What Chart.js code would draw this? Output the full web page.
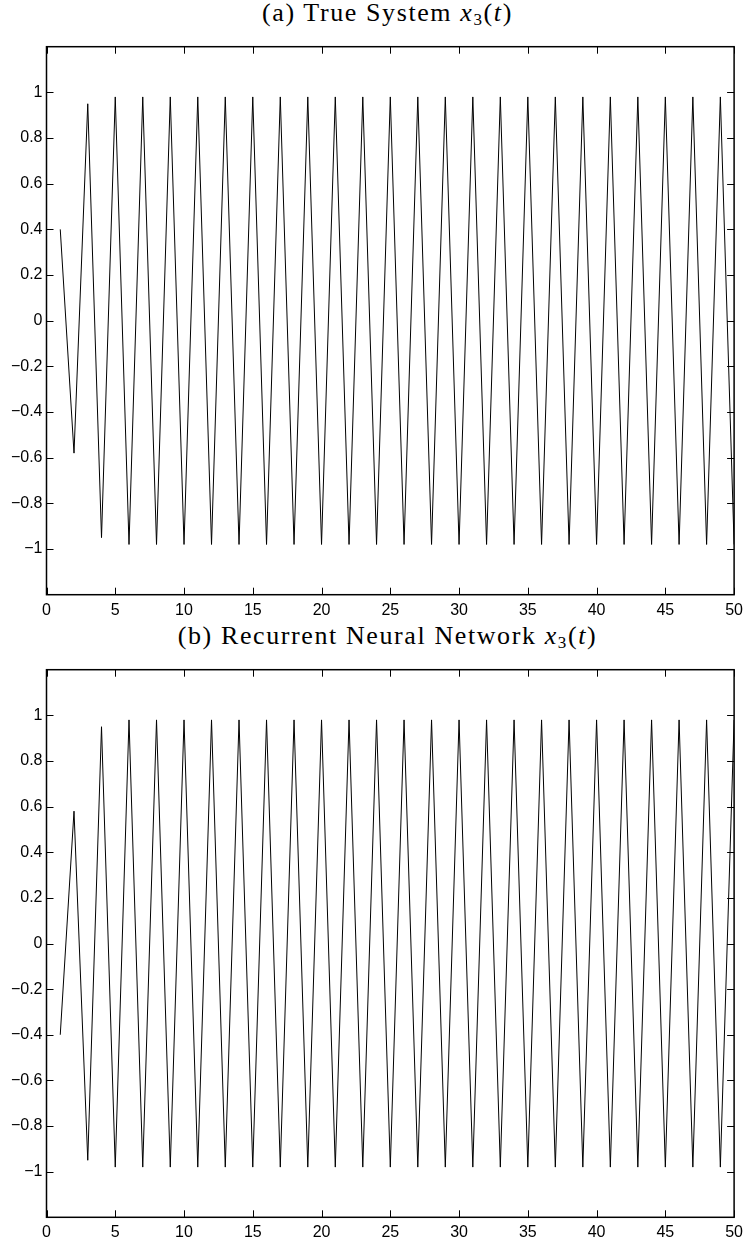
<!DOCTYPE html>
<html>
<head>
<meta charset="utf-8">
<script src="https://cdn.jsdelivr.net/npm/chart.js@4.4.1/dist/chart.umd.min.js"></script>
<style>
  html, body { margin: 0; padding: 0; background: #fff; overflow: hidden; }
  body { width: 749px; height: 1241px; position: relative; }
  .title { position: absolute; left: 13px; width: 749px; text-align: center;
           font-family: "Liberation Serif", "DejaVu Serif", serif; font-size: 26px; color: #000;
           letter-spacing: 1.6px; white-space: nowrap; line-height: 28px; }
  .title i { font-style: italic; }
  .title sub { font-size: 17px; vertical-align: -4px; line-height: 0; }
  canvas { position: absolute; left: 0; }
</style>
</head>
<body>
<div class="title" id="t1" style="top:-1px">(a) True System <i>x</i><sub>3</sub>(<i>t</i>)</div>
<div class="title" id="t2" style="top:622px">(b) Recurrent Neural Network <i>x</i><sub>3</sub>(<i>t</i>)</div>
<div id="w1" style="position:absolute;left:0;top:0;width:749px;height:625px"><canvas id="c1"></canvas></div>
<div id="w2" style="position:absolute;left:0;top:625px;width:749px;height:616px"><canvas id="c2"></canvas></div>
<script>
// ---- data ----
const timeSteps = [1,2,3,4,5,6,7,8,9,10,11,12,13,14,15,16,17,18,19,20,21,22,23,24,25,
                   26,27,28,29,30,31,32,33,34,35,36,37,38,39,40,41,42,43,44,45,46,47,48,49,50];
const trueSystemX3 = [0.40,-0.58,0.95,-0.95,0.98,-0.98,0.98,-0.98,0.98,-0.98,
                      0.98,-0.98,0.98,-0.98,0.98,-0.98,0.98,-0.98,0.98,-0.98,
                      0.98,-0.98,0.98,-0.98,0.98,-0.98,0.98,-0.98,0.98,-0.98,
                      0.98,-0.98,0.98,-0.98,0.98,-0.98,0.98,-0.98,0.98,-0.98,
                      0.98,-0.98,0.98,-0.98,0.98,-0.98,0.98,-0.98,0.98,-0.98];
const rnnX3 = [-0.40,0.58,-0.95,0.95,-0.98,0.98,-0.98,0.98,-0.98,0.98,
               -0.98,0.98,-0.98,0.98,-0.98,0.98,-0.98,0.98,-0.98,0.98,
               -0.98,0.98,-0.98,0.98,-0.98,0.98,-0.98,0.98,-0.98,0.98,
               -0.98,0.98,-0.98,0.98,-0.98,0.98,-0.98,0.98,-0.98,0.98,
               -0.98,0.98,-0.98,0.98,-0.98,0.98,-0.98,0.98,-0.98,0.98];
const xTickValues = [0,5,10,15,20,25,30,35,40,45,50];
const yTickValues = [-1,-0.8,-0.6,-0.4,-0.2,0,0.2,0.4,0.6,0.8,1];
const xRange = [0, 50];
const yRange = [-1.2, 1.2];

function fmt(v) {
  const s = String(Number(v.toFixed(1)));
  return s.replace('-', '\u2212');
}

const framePlugin = {
  id: 'frame',
  afterDatasetsDraw(chart) {
    const { ctx, chartArea: a, scales: { x, y } } = chart;
    ctx.save();
    ctx.strokeStyle = '#000';
    ctx.lineWidth = 1;
    const tl = 7;
    ctx.beginPath();
    x.ticks.forEach(t => {
      const px = Math.round(x.getPixelForValue(t.value)) + 0.5;
      ctx.moveTo(px, a.bottom); ctx.lineTo(px, a.bottom - tl);
      ctx.moveTo(px, a.top); ctx.lineTo(px, a.top + tl);
    });
    y.ticks.forEach(t => {
      const py = Math.round(y.getPixelForValue(t.value)) + 0.5;
      ctx.moveTo(a.left, py); ctx.lineTo(a.left + tl, py);
      ctx.moveTo(a.right, py); ctx.lineTo(a.right - tl, py);
    });
    ctx.stroke();
    ctx.lineWidth = 1.5;
    ctx.strokeRect(a.left, a.top, a.right - a.left, a.bottom - a.top);
    ctx.restore();
  }
};

function makeChart(id, values, topPad, xAxisH) {
  const pts = timeSteps.map((t, i) => ({ x: t, y: values[i] }));
  return new Chart(document.getElementById(id), {
    type: 'line',
    data: { datasets: [{ data: pts, borderColor: '#000', borderWidth: 1, pointRadius: 0,
                         tension: 0, fill: false }] },
    options: {
      responsive: true, maintainAspectRatio: false, animation: false,
      devicePixelRatio: 1,
      layout: { padding: { left: 0, right: 9.5, top: topPad, bottom: 0 } },
      plugins: { legend: { display: false }, tooltip: { enabled: false }, title: { display: false } },
      scales: {
        x: {
          type: 'linear', min: xRange[0], max: xRange[1],
          afterBuildTicks: s => { s.ticks = xTickValues.map(v => ({ value: v })); },
          afterFit: s => { s.height = xAxisH; },
          grid: { display: false, drawTicks: false },
          border: { display: false },
          ticks: { color: '#000', padding: 6, maxRotation: 0, autoSkip: false,
                   font: { family: '"Liberation Sans", Arial, sans-serif', size: 16 },
                   callback: v => fmt(v) }
        },
        y: {
          type: 'linear', min: yRange[0], max: yRange[1],
          afterBuildTicks: s => { s.ticks = yTickValues.map(v => ({ value: v })); },
          afterFit: s => { s.width = 46.5; },
          grid: { display: false, drawTicks: false },
          border: { display: false },
          ticks: { color: '#000', padding: 4, autoSkip: false,
                   font: { family: '"Liberation Sans", Arial, sans-serif', size: 16 },
                   callback: v => fmt(v) }
        }
      }
    },
    plugins: [framePlugin]
  });
}

makeChart('c1', trueSystemX3, 46.7, 625 - 594.7);
makeChart('c2', rnnX3, 669.7 - 625, 616 - (1217.3 - 625));
</script>
</body>
</html>
